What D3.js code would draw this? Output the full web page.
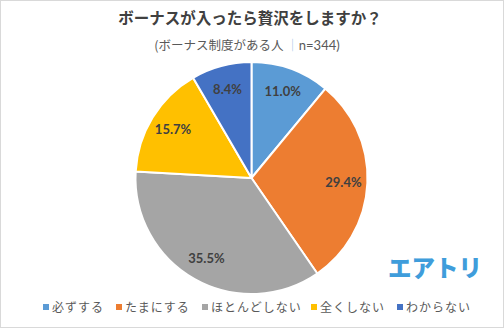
<!DOCTYPE html>
<html><head><meta charset="utf-8">
<script src="https://cdn.jsdelivr.net/npm/d3@7"></script>
<style>
html,body{margin:0;padding:0;background:#fff;}
svg{display:block;}
</style></head>
<body>
<svg id="c" width="504" height="328"></svg>
<script>
const categories = ["必ずする","たまにする","ほとんどしない","全くしない","わからない"];
const values = [11.0, 29.4, 35.5, 15.7, 8.4];
const colors = ["#5B9BD5","#ED7D31","#A5A5A5","#FFC000","#4472C4"];
const title = "ボーナスが入ったら贅沢をしますか？";
const subtitle = "(ボーナス制度がある人 ";
const nLabel = "n=344)";

const svg = d3.select("#c");
const W = 504, H = 328;
svg.append("rect").attr("x",0.5).attr("y",0.5).attr("width",W-1).attr("height",H-1)
  .attr("fill","#fff").attr("stroke","#d9d9d9");

const jp = "'Noto Sans CJK JP','Noto Sans',sans-serif";
const num = "Lato,'Noto Sans',sans-serif";

svg.append("text").attr("x",250).attr("y",24).attr("text-anchor","middle")
  .attr("font-family",jp).attr("font-weight","bold").attr("font-size",15.5)
  .attr("fill","#404040").text(title);

const st = svg.append("text").attr("x",247).attr("y",50).attr("text-anchor","middle")
  .attr("font-family",jp).attr("font-size",12.5).attr("fill","#595959");
st.append("tspan").text(subtitle);
st.append("tspan").attr("fill","#9DC3E6").text("｜");
st.append("tspan").attr("font-family",num).attr("font-size",13).text(nLabel);

const cx = 251.5, cy = 178, R = 116;
const pie = d3.pie().sort(null).value(d=>d);
const arcs = pie(values);
const arc = d3.arc().innerRadius(0).outerRadius(R);
const g = svg.append("g").attr("transform",`translate(${cx},${cy})`);
g.selectAll("path").data(arcs).join("path")
  .attr("d",arc).attr("fill",(d,i)=>colors[i])
  .attr("stroke","#fff").attr("stroke-width",2).attr("stroke-linejoin","round");

const labelArc = d3.arc().innerRadius(92).outerRadius(92);
g.selectAll("text.lbl").data(arcs).join("text").attr("class","lbl")
  .attr("transform",d=>`translate(${labelArc.centroid(d)})`)
  .attr("text-anchor","middle").attr("dy","0.35em")
  .attr("font-family",num).attr("font-weight","bold").attr("font-size",13)
  .attr("fill","#404040").text(d=>d.data.toFixed(1)+"%");

// legend
const legendX = [46,119,205,314,400];
const lg = svg.append("g");
categories.forEach((c,i)=>{
  lg.append("rect").attr("x",legendX[i]-3).attr("y",304).attr("width",6).attr("height",6).attr("fill",colors[i]);
  lg.append("text").attr("x",legendX[i]+6).attr("y",312).attr("font-family",jp)
    .attr("font-size",12).attr("fill","#595959").attr("letter-spacing",1).text(c);
});

// logo
svg.append("text").attr("x",435).attr("y",277).attr("text-anchor","middle")
  .attr("font-family",jp).attr("font-weight","900").attr("font-size",23.5)
  .attr("fill","#3F9DDB").text("エアトリ");
</script>
</body></html>
